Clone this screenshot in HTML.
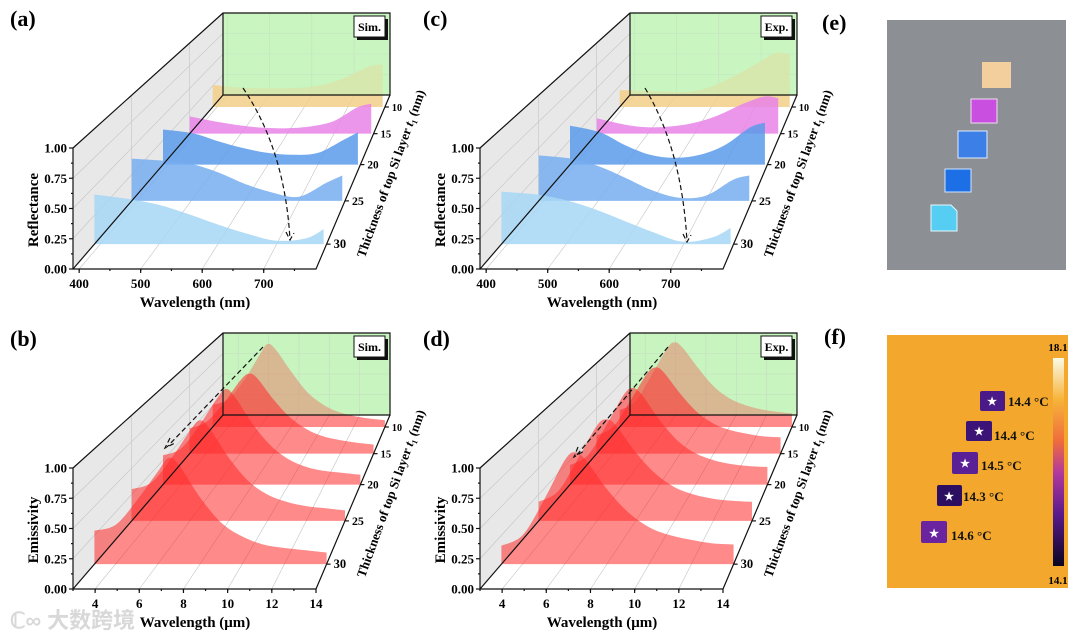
<!DOCTYPE html>
<html><head><meta charset="utf-8"><style>
html,body{margin:0;padding:0;background:#fff;}
svg{display:block;font-family:"Liberation Serif",serif;font-weight:bold;}
</style></head><body>
<svg id="fig" width="1080" height="640" viewBox="0 0 1080 640" xmlns="http://www.w3.org/2000/svg">
<g id="panels"></g>
<g>
<text x="822" y="30" font-size="22">(e)</text>
<rect x="887" y="20" width="179" height="250" fill="#8c8f93"/>
<rect x="982" y="62" width="29" height="26" fill="#f4cf9e"/>
<rect x="971" y="99" width="26" height="24" fill="#c94fe0" stroke="#f0e0f0" stroke-width="1"/>
<rect x="958" y="131" width="29" height="27" fill="#3c7fe6" stroke="#e0ecff" stroke-width="1"/>
<rect x="945" y="169" width="26" height="23" fill="#1c6fe4" stroke="#cfe6ff" stroke-width="1"/>
<path d="M931 205 L951 205 L957 211 L957 231 L931 231 Z" fill="#56cdf2" stroke="#e6f8ff" stroke-width="1"/>
</g>
<g>
<defs><linearGradient id="cbar" x1="0" y1="1" x2="0" y2="0">
<stop offset="0" stop-color="#0a0520"/><stop offset="0.25" stop-color="#5a1a8c"/><stop offset="0.45" stop-color="#b33a9c"/><stop offset="0.6" stop-color="#ef6c3c"/><stop offset="0.8" stop-color="#f7b43a"/><stop offset="1" stop-color="#fafae8"/></linearGradient></defs>
<text x="824" y="344" font-size="22">(f)</text>
<rect x="887" y="335" width="181" height="253" fill="#f3a72c"/>
<rect x="1053" y="358" width="11" height="208" fill="url(#cbar)"/>
<text x="1058" y="351" font-size="11" text-anchor="middle">18.1</text>
<text x="1058" y="584" font-size="11" text-anchor="middle">14.1</text>
<g font-size="13" fill="#111">
<rect x="980" y="391" width="25" height="20" fill="#4a1a88" rx="2"/><text x="992" y="405" fill="#fff" font-size="11" text-anchor="middle">★</text><text x="1008" y="406">14.4 °C</text>
<rect x="966" y="421" width="26" height="20" fill="#3c1478" rx="2"/><text x="979" y="435" fill="#fff" font-size="11" text-anchor="middle">★</text><text x="994" y="440">14.4 °C</text>
<rect x="952" y="452" width="26" height="22" fill="#5a2096" rx="2"/><text x="965" y="467" fill="#fff" font-size="11" text-anchor="middle">★</text><text x="981" y="470">14.5 °C</text>
<rect x="937" y="485" width="25" height="21" fill="#2c0f60" rx="2"/><text x="949" y="500" fill="#fff" font-size="11" text-anchor="middle">★</text><text x="963" y="501">14.3 °C</text>
<rect x="921" y="521" width="26" height="22" fill="#6a24a0" rx="2"/><text x="934" y="537" fill="#fff" font-size="11" text-anchor="middle">★</text><text x="951" y="540">14.6 °C</text>
</g></g>
<text x="10" y="628" font-size="22" fill="#d8d8d8" font-family="'Liberation Sans','Noto Sans CJK SC',sans-serif">ℂ∞ 大数跨境</text>
</svg>
<script>
const thicknesses = [10, 15, 20, 25, 30];
const reflWl = [390, 450, 500, 550, 600, 650, 700, 750, 780];
const reflSim10 = [0.26,0.23,0.22,0.22,0.23,0.27,0.36,0.48,0.50];
const reflSim15 = [0.19,0.13,0.09,0.065,0.06,0.08,0.14,0.29,0.33];
const reflSim20 = [0.36,0.32,0.24,0.17,0.12,0.10,0.12,0.25,0.33];
const reflSim25 = [0.40,0.38,0.35,0.27,0.16,0.08,0.04,0.17,0.24];
const reflSim30 = [0.43,0.39,0.34,0.26,0.17,0.09,0.03,0.05,0.13];
const reflExp10 = [0.20,0.19,0.18,0.18,0.24,0.36,0.50,0.64,0.62];
const reflExp15 = [0.17,0.10,0.07,0.08,0.12,0.20,0.32,0.41,0.39];
const reflExp20 = [0.40,0.33,0.20,0.10,0.07,0.10,0.20,0.38,0.43];
const reflExp25 = [0.43,0.40,0.33,0.22,0.10,0.03,0.05,0.20,0.24];
const reflExp30 = [0.455,0.43,0.38,0.30,0.20,0.10,0.02,0.06,0.14];
const emiWl = [3,4,5,6,6.5,7,8,9,10,11,12,13,14];
const emiSim10 = [0.26,0.33,0.55,0.85,0.98,0.92,0.66,0.42,0.27,0.18,0.13,0.10,0.08];
const emiSim15 = [0.28,0.35,0.55,0.80,0.88,0.84,0.60,0.40,0.27,0.19,0.15,0.12,0.10];
const emiSim20 = [0.30,0.37,0.60,0.88,0.98,0.90,0.62,0.40,0.26,0.18,0.14,0.12,0.10];
const emiSim25 = [0.30,0.36,0.58,0.85,0.95,0.88,0.60,0.38,0.25,0.18,0.14,0.12,0.10];
const emiSim30 = [0.29,0.34,0.55,0.80,0.92,0.86,0.58,0.36,0.24,0.17,0.14,0.12,0.10];
const emiExp10 = [0.20,0.30,0.60,0.92,1.00,0.94,0.70,0.48,0.34,0.26,0.21,0.18,0.16];
const emiExp15 = [0.20,0.30,0.58,0.88,0.95,0.90,0.66,0.46,0.33,0.26,0.22,0.19,0.18];
const emiExp20 = [0.20,0.30,0.60,0.92,0.99,0.92,0.66,0.45,0.32,0.25,0.21,0.19,0.18];
const emiExp25 = [0.18,0.28,0.58,0.90,0.96,0.90,0.65,0.45,0.32,0.25,0.21,0.19,0.18];
const emiExp30 = [0.16,0.25,0.55,0.90,0.97,0.90,0.65,0.45,0.32,0.25,0.21,0.18,0.17];
const yTicks = ["0.00","0.25","0.50","0.75","1.00"];
const reflXTicks = [400,500,600,700];
const emiXTicks = [4,6,8,10,12,14];

const NS = "http://www.w3.org/2000/svg";
const root = document.getElementById('panels');
function el(tag, attrs, parent){ const e=document.createElementNS(NS,tag); for(const k in attrs) e.setAttribute(k,attrs[k]); (parent||root).appendChild(e); return e; }

function makeProj(ox, oy, l0, l1){
  const depth = T => { const z=Math.max(0,Math.min(1,(32.5-T)/25)); return z*1.5/(1+0.5*z); };
  return function(lam, T, v){
    const p = depth(T);
    const left = ox+73+150*p, right = ox+316+74*p;
    const h = 121-39*p;
    const base = oy+269-174*p;
    return [left+(lam-l0)/(l1-l0)*(right-left), base - v*h];
  };
}
function smoothPath(pts){
  let d = `M${pts[0][0].toFixed(1)},${pts[0][1].toFixed(1)}`;
  for(let i=0;i<pts.length-1;i++){
    const p0=pts[Math.max(0,i-1)], p1=pts[i], p2=pts[i+1], p3=pts[Math.min(pts.length-1,i+2)];
    const c1=[p1[0]+(p2[0]-p0[0])/6, p1[1]+(p2[1]-p0[1])/6];
    const c2=[p2[0]-(p3[0]-p1[0])/6, p2[1]-(p3[1]-p1[1])/6];
    d+=` C${c1[0].toFixed(1)},${c1[1].toFixed(1)} ${c2[0].toFixed(1)},${c2[1].toFixed(1)} ${p2[0].toFixed(1)},${p2[1].toFixed(1)}`;
  }
  return d;
}

function drawPanel(ox, oy, label, tag, kind, wl, series, colors, arrow){
  const isR = kind==='refl';
  const l0 = isR?390:3, l1 = isR?785:14;
  const P = makeProj(ox, oy, l0, l1);
  const g = el('g',{});
  
  
  const BT = 7.5, FT = 32.5;
  const lw = el('polygon',{points:[P(l0,FT,1),P(l0,BT,1),P(l0,BT,0),P(l0,FT,0)].map(p=>p.join(',')).join(' '),fill:'#e8e8e8'},g);
   
  const bw = el('polygon',{points:[P(l0,BT,1),P(l1,BT,1),P(l1,BT,0),P(l0,BT,0)].map(p=>p.join(',')).join(' '),fill:'#c8f5c0'},g);
   
  const grid = el('g',{stroke:'#c4c4c4','stroke-width':0.6,fill:'none'},g);
   
  const xt = isR?reflXTicks:emiXTicks;
  xt.forEach(t=>{ const a=P(t,FT,0),b=P(t,BT,0),c=P(t,BT,1);
    el('polyline',{points:[a,b,c].map(p=>p.join(',')).join(' ')},grid); });
  [0.25,0.5,0.75].forEach(v=>{ const a=P(l0,FT,v),b=P(l0,BT,v),c=P(l1,BT,v);
    el('polyline',{points:[a,b,c].map(p=>p.join(',')).join(' ')},grid); });
  [15,25].forEach(T=>{ const a=P(l0,T,0),b=P(l0,T,1); el('line',{x1:a[0],y1:a[1],x2:b[0],y2:b[1]},grid); });
  [0,1,2,3,4].forEach(i=>{
    const T = thicknesses[i];
    const pts = wl.map((w,j)=>P(w,T,series[i][j]));
    const b1 = P(wl[wl.length-1],T,0), b0 = P(wl[0],T,0);
    const d = `M${b0[0]},${b0[1]} L` + smoothPath(pts).slice(1) + ` L${b1[0]},${b1[1]} Z`;
    const s = el('path',{d:d,fill:colors[i],'fill-opacity':isR?0.85:0.55},g);
    
    
    if(i===0){
      const ov = el('polygon',{points:[P(l0,BT,1),P(l1,BT,1),P(l1,BT,0),P(l0,BT,0)].map(p=>p.join(',')).join(' '),fill:'#c8f5c0','fill-opacity':isR?0.6:0.45},g);
       
    }
  });
  const fr = el('g',{stroke:'#111','stroke-width':1.2,fill:'none'},g);
   
  const F=[P(l0,FT,1),P(l0,BT,1),P(l1,BT,1),P(l1,BT,0),P(l0,BT,0)];
  el('polyline',{points:[F[0],F[1],F[2],F[3],F[4],F[1]].map(p=>p.join(',')).join(' ')},fr);
  el('polyline',{points:[P(l0,FT,1),P(l0,FT,0),P(l1,FT,0),P(l1,BT,0)].map(p=>p.join(',')).join(' ')},fr);
  el('line',{x1:P(l0,FT,0)[0],y1:P(l0,FT,0)[1],x2:P(l0,BT,0)[0],y2:P(l0,BT,0)[1]},fr);
  yTicks.forEach((t,i)=>{ const v=i*0.25; const p=P(l0,FT,v);
    el('line',{x1:p[0]-4,y1:p[1],x2:p[0],y2:p[1]},fr);
    if(i<4){const q=P(l0,FT,v+0.125); el('line',{x1:q[0]-2,y1:q[1],x2:q[0],y2:q[1]},fr);}
    const tx=el('text',{x:p[0]-6,y:p[1]+4.5,'font-size':13,'text-anchor':'end'},g); tx.textContent=t;
     
  });
  xt.forEach(t=>{ const p=P(t,FT,0);
    el('line',{x1:p[0],y1:p[1],x2:p[0],y2:p[1]+4},fr);
    const tx=el('text',{x:p[0],y:p[1]+19,'font-size':13,'text-anchor':'middle'},g); tx.textContent=t;
     
  });
  const step = isR?50:1;
  for(let t=xt[0]-step; t<l1; t+=step){ if(t<l0) continue; const p=P(t,FT,0); el('line',{x1:p[0],y1:p[1],x2:p[0],y2:p[1]+2},fr); }
  thicknesses.forEach(T=>{ const p=P(l1,T,0);
    el('line',{x1:p[0],y1:p[1],x2:p[0]+4,y2:p[1]},fr);
    const fs = 12.5 - (30-T)*0.12;
    const tx=el('text',{x:p[0]+7,y:p[1]+4,'font-size':fs},g); tx.textContent=T;
     
  });
  const xtl=el('text',{x:ox+195,y:oy+307,'font-size':15,'text-anchor':'middle'},g);
  xtl.textContent = isR?'Wavelength (nm)':'Wavelength (μm)';
   
  const ytl=el('text',{x:0,y:0,'font-size':15,'text-anchor':'middle',transform:`translate(${ox+38},${oy+210}) rotate(-90)`},g);
  ytl.textContent = isR?'Reflectance':'Emissivity';
   
  const ttl=el('text',{x:0,y:0,'font-size':13,'text-anchor':'middle',transform:`translate(${ox+395},${oy+175}) rotate(-70)`},g);
  ttl.innerHTML='Thickness of top Si layer <tspan font-style="italic">t</tspan><tspan font-size="8" dy="3">1</tspan><tspan dy="-3"> (nm)</tspan>';
   
  const pl=el('text',{x:ox+(label==='c'||label==='d'?16:10),y:oy+26,'font-size':22},g); pl.textContent='('+label+')';
   
  el('rect',{x:ox+357,y:oy+19,width:31,height:21,fill:'#111'},g);
  const bx=el('rect',{x:ox+354,y:oy+16,width:31,height:21,fill:'#fff',stroke:'#111','stroke-width':1},g);
   
  const tt=el('text',{x:ox+369.5,y:oy+31,'font-size':12,'text-anchor':'middle'},g); tt.textContent=tag;
  const ar=el('path',{d:arrow,stroke:'#111','stroke-width':1.2,fill:'none','stroke-dasharray':'5,3'},g);
   
  return g;
}
function arrowPath(ox,oy,x0,y0,cx,cy,x1,y1){
  return `M${ox+x0},${oy+y0} Q${ox+cx},${oy+cy} ${ox+x1},${oy+y1} M${ox+x1-4},${oy+y1-8} L${ox+x1},${oy+y1} L${ox+x1+4},${oy+y1-7}`;
}
const reflColors=['#f2cf8a','#e883e8','#5a9aea','#77aef0','#a6d6f5'];
const emiColors=['#ff2a2a','#ff2a2a','#ff2a2a','#ff2a2a','#ff2a2a'];
drawPanel(0,0,'a','Sim.','refl',reflWl,[reflSim10,reflSim15,reflSim20,reflSim25,reflSim30],reflColors,arrowPath(0,0,243,88,285,150,290,240));
drawPanel(407,0,'c','Exp.','refl',reflWl,[reflExp10,reflExp15,reflExp20,reflExp25,reflExp30],reflColors,arrowPath(407,0,238,88,275,150,280,242));
drawPanel(0,320,'b','Sim.','emi',emiWl,[emiSim10,emiSim15,emiSim20,emiSim25,emiSim30],emiColors,'M263,347 L167,447 M170,438 L165,448 L175,443');
drawPanel(407,320,'d','Exp.','emi',emiWl,[emiExp10,emiExp15,emiExp20,emiExp25,emiExp30],emiColors,'M668,347 L576,456 M578,447 L574,457 L584,451');
</script>
</body></html>
